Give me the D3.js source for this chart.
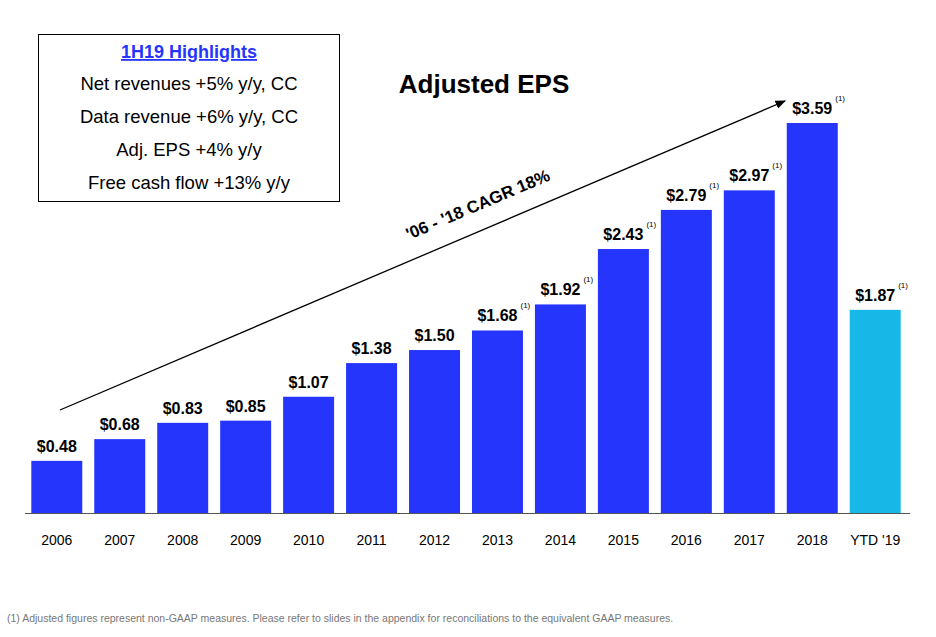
<!DOCTYPE html><html><head><script src="https://cdn.jsdelivr.net/npm/d3@7"></script>
<style>body{margin:0;background:#fff}text{font-family:Arial,"Liberation Sans",sans-serif}</style></head><body>
<svg id="c" width="936" height="637"></svg>
<script>
const categories=["2006","2007","2008","2009","2010","2011","2012","2013","2014","2015","2016","2017","2018","YTD '19"];
const values=[0.48,0.68,0.83,0.85,1.07,1.38,1.50,1.68,1.92,2.43,2.79,2.97,3.59,1.87];
const footnoted=[false,false,false,false,false,false,false,true,true,true,true,true,true,true];
const highlights=["Net revenues +5% y/y, CC","Data revenue +6% y/y, CC","Adj. EPS +4% y/y","Free cash flow +13% y/y"];
const svg=d3.select("#c");
const x=d3.scaleBand().domain(categories).range([25,907]).paddingInner(0.19).paddingOuter(0.1);
const y=d3.scaleLinear().domain([0,3.59]).range([513,123]);
svg.selectAll("rect.b").data(values).join("rect").attr("x",(d,i)=>x(categories[i])).attr("width",x.bandwidth())
 .attr("y",d=>y(d)).attr("height",d=>513-y(d)).attr("fill",(d,i)=>i==13?"#17b8e8":"#2535fb");
svg.append("line").attr("x1",25).attr("x2",910).attr("y1",513.5).attr("y2",513.5).attr("stroke","#555");
svg.selectAll("text.c").data(categories).join("text").attr("x",d=>x(d)+x.bandwidth()/2).attr("y",545)
 .attr("text-anchor","middle").attr("font-size",14).text(d=>d);
const g=svg.selectAll("g.l").data(values).join("g");
g.append("text").attr("x",(d,i)=>x(categories[i])+x.bandwidth()/2).attr("y",d=>y(d)-9).attr("text-anchor","middle")
 .attr("font-size",16).attr("font-weight","bold").text(d=>"$"+d.toFixed(2));
g.filter((d,i)=>footnoted[i]).append("text").attr("x",function(d){const i=values.indexOf(d);return x(categories[i])+x.bandwidth()/2+23}).attr("y",d=>y(d)-22)
 .attr("font-size",8).text("(1)");
svg.append("defs").append("marker").attr("id","ar").attr("viewBox","0 0 10 10").attr("refX",9).attr("refY",5)
 .attr("markerWidth",8).attr("markerHeight",8).attr("orient","auto").append("path").attr("d","M0,1L10,5L0,9z").attr("fill","#000");
svg.append("line").attr("x1",60).attr("y1",410).attr("x2",785).attr("y2",101).attr("stroke","#000").attr("stroke-width",1.3).attr("marker-end","url(#ar)");
svg.append("text").attr("transform","translate(480,210) rotate(-23)").attr("text-anchor","middle").attr("font-size",17).attr("font-weight","bold").text("'06 - '18 CAGR 18%");
svg.append("text").attr("x",484).attr("y",93).attr("text-anchor","middle").attr("font-size",26).attr("font-weight","bold").text("Adjusted EPS");
svg.append("rect").attr("x",38.5).attr("y",34.5).attr("width",301).attr("height",167).attr("fill","none").attr("stroke","#000");
svg.append("text").attr("x",189).attr("y",58).attr("text-anchor","middle").attr("font-size",18).attr("font-weight","bold").attr("fill","#2535fb").attr("text-decoration","underline").text("1H19 Highlights");
svg.selectAll("text.h").data(highlights).join("text").attr("x",189).attr("y",(d,i)=>90+i*33).attr("text-anchor","middle").attr("font-size",18.5).text(d=>d);
svg.append("text").attr("x",7).attr("y",622).attr("font-size",10.5).attr("fill","#777").text("(1) Adjusted figures represent non-GAAP measures. Please refer to slides in the appendix for reconciliations to the equivalent GAAP measures.");
</script></body></html>
